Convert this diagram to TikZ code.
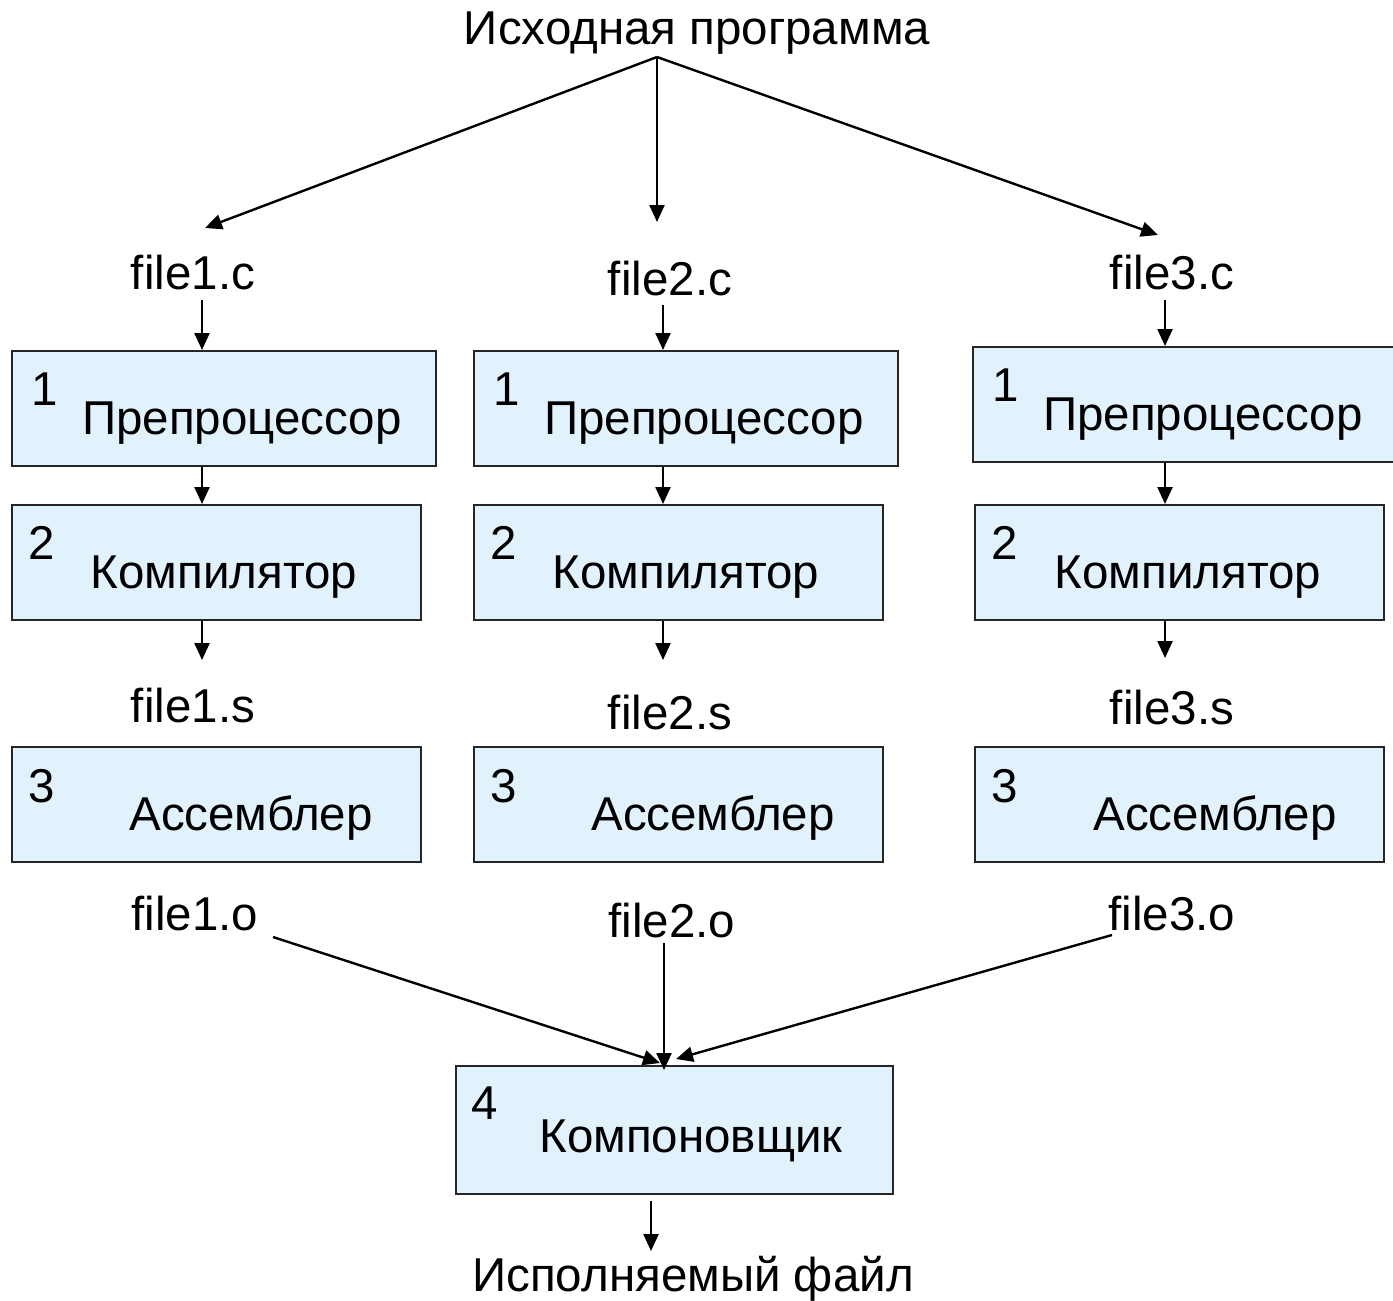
\documentclass[tikz,border=0pt]{standalone}
\usepackage{fontspec}
\setmainfont{Liberation Sans}
\usetikzlibrary{arrows.meta}
\definecolor{boxfill}{RGB}{225,242,253}
\begin{document}
\begin{tikzpicture}[x=1pt,y=-1pt,
  box/.style={draw=black!85,line width=2pt,fill=boxfill,inner sep=0pt,minimum height=115pt},
  txt/.style={inner sep=0pt,anchor=base,font=\fontsize{47.5}{56}\selectfont},
  num/.style={inner sep=0pt,anchor=base west,font=\fontsize{47.5}{56}\selectfont},
  arr/.style={line width=2.4pt,-{Triangle[length=17pt,width=15pt]}}]
\useasboundingbox (0,0) rectangle (1393,1301);
% boxes
\node[box,minimum width=424pt] (p1) at (224,408.5) {};
\node[box,minimum width=424pt] (p2) at (686,408.5) {};
\node[box,minimum width=424pt] (p3) at (1185,404.5) {};
\node[box,minimum width=409pt] (c1) at (216.5,562.5) {};
\node[box,minimum width=409pt] (c2) at (678.5,562.5) {};
\node[box,minimum width=409pt] (c3) at (1179.5,562.5) {};
\node[box,minimum width=409pt] (s1) at (216.5,804.5) {};
\node[box,minimum width=409pt] (s2) at (678.5,804.5) {};
\node[box,minimum width=409pt] (s3) at (1179.5,804.5) {};
\node[box,minimum width=437pt,minimum height=128pt] (L) at (674.5,1130) {};
% numbers and labels
\node[num] (p1n) at (31,405) {1};
\node[txt] (p1t) at (242,434) {Препроцессор};
\node[num] (p2n) at (493,405) {1};
\node[txt] (p2t) at (704,434) {Препроцессор};
\node[num] (p3n) at (992,401) {1};
\node[txt] (p3t) at (1203,430) {Препроцессор};
\node[num] (c1n) at (28,559) {2};
\node[txt] (c1t) at (224,588) {Компилятор};
\node[num] (c2n) at (490,559) {2};
\node[txt] (c2t) at (686,588) {Компилятор};
\node[num] (c3n) at (991,559) {2};
\node[txt] (c3t) at (1188,588) {Компилятор};
\node[num] (s1n) at (28,802) {3};
\node[txt] (s1t) at (251,830) {Ассемблер};
\node[num] (s2n) at (490,802) {3};
\node[txt] (s2t) at (713,830) {Ассемблер};
\node[num] (s3n) at (991,802) {3};
\node[txt] (s3t) at (1215,830) {Ассемблер};
\node[num] (Ln) at (471,1119) {4};
\node[txt] (Lt) at (691,1152) {Компоновщик};
% file labels
\node[txt] (src) at (697,44) {Исходная программа};
\node[txt] (f1c) at (193,289) {file1.c};
\node[txt] (f2c) at (670,295) {file2.c};
\node[txt] (f3c) at (1172,289) {file3.c};
\node[txt] (f1s) at (193,722) {file1.s};
\node[txt] (f2s) at (670,729) {file2.s};
\node[txt] (f3s) at (1172,724) {file3.s};
\node[txt] (f1o) at (195,930) {file1.o};
\node[txt] (f2o) at (672,937) {file2.o};
\node[txt] (f3o) at (1172,930) {file3.o};
\node[txt] (exe) at (693,1291) {Исполняемый файл};
% connector points
\coordinate (fan) at (657,57);
\coordinate (t1) at (205,228);
\coordinate (t2) at (657,222);
\coordinate (t3) at (1158,235);
\coordinate (a1) at (202,300);
\coordinate (a2) at (663,305);
\coordinate (a3) at (1165,300);
\coordinate (o1) at (273,937);
\coordinate (o2) at (664,943);
\coordinate (o3) at (1112,935);
\coordinate (m1) at (660,1063);
\coordinate (m2) at (664,1070);
\coordinate (m3) at (676,1059);
\coordinate (e1) at (651,1201);
\coordinate (e2) at (651,1251);
\coordinate (k1) at (202,660);
\coordinate (k2) at (663,660);
\coordinate (k3) at (1165,658);
% connectors
\draw[arr] (fan) -- (t1);
\draw[arr] (fan) -- (t2);
\draw[arr] (fan) -- (t3);
\draw[arr] (a1) -- (a1 |- p1.north);
\draw[arr] (a2) -- (a2 |- p2.north);
\draw[arr] (a3) -- (a3 |- p3.north);
\draw[arr] (a1 |- p1.south) -- (a1 |- c1.north);
\draw[arr] (a2 |- p2.south) -- (a2 |- c2.north);
\draw[arr] (a3 |- p3.south) -- (a3 |- c3.north);
\draw[arr] (k1 |- c1.south) -- (k1);
\draw[arr] (k2 |- c2.south) -- (k2);
\draw[arr] (k3 |- c3.south) -- (k3);
\draw[arr] (o1) -- (m1);
\draw[arr] (o2) -- (m2);
\draw[arr] (o3) -- (m3);
\draw[arr] (e1) -- (e2);
\end{tikzpicture}
\end{document}
